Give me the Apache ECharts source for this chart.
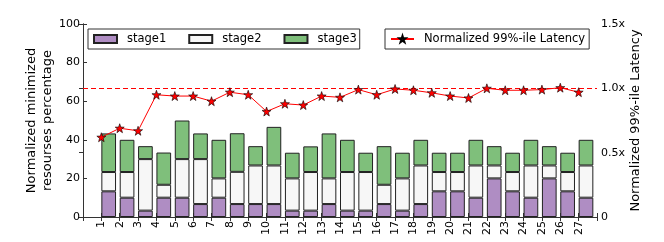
<!DOCTYPE html>
<html><head><meta charset="utf-8">
<script src="https://cdn.jsdelivr.net/npm/echarts@6/dist/echarts.min.js"></script>
<style>html,body{margin:0;padding:0;background:#fff}#c{width:664px;height:242px}</style>
</head><body><div id="c"></div>
<script>
const categories = [1,2,3,4,5,6,7,8,9,10,11,12,13,14,15,16,17,18,19,20,21,22,23,24,25,26,27];
const stage1 = [13.3,10,3.3,10,10,6.7,10,6.7,6.7,6.7,3.3,3.3,6.7,3.3,3.3,6.7,3.3,6.7,13.3,13.3,10,20,13.3,10,20,13.3,10];
const stage2 = [10,13.3,26.7,6.7,20,23.3,10,16.7,20,20,16.7,20,13.3,20,20,10,16.7,20,10,10,16.7,6.7,10,16.7,6.7,10,16.7];
const stage3 = [20,16.7,6.7,16.7,20,13.3,20,20,10,20,13.3,13.3,23.3,16.7,10,20,13.3,13.3,10,10,13.3,10,10,13.3,10,10,13.3];
const latency = [0.62,0.69,0.67,0.95,0.94,0.94,0.90,0.97,0.95,0.82,0.88,0.87,0.94,0.93,0.99,0.95,0.995,0.985,0.965,0.94,0.925,1.0,0.985,0.985,0.99,1.005,0.97];
const leftTicks = [0,20,40,60,80,100];
const rightTicks = ['0','0.5x','1.0x','1.5x'];
const seriesNames = ['stage1','stage2','stage3'];
const latencyName = 'Normalized 99%-ile Latency';
const refLatency = 1.0;

const FONT = 'DejaVu Sans';
const AX = '#333';
const star = 'path://M0,-10 L2.35,-3.24 L9.51,-3.09 L3.8,1.24 L5.88,8.09 L0,4 L-5.88,8.09 L-3.8,1.24 L-9.51,-3.09 L-2.35,-3.24 Z';
const colors = ['#af8dc3','#f7f7f7','#7fbf7b'];
const stages = [stage1, stage2, stage3];

// plot geometry: x range 0..28, bars span [i, i+0.8]
const GL = 83, GR = 67, GT = 24, GB = 25;
const unit = (664 - GL - GR) / 28;
const shift = 0.1 * unit;
// bar categories: slot 0 empty, slot i holds bar i (centre i+0.4 in x units)
const barSlots = ['', ...categories.map(String)];

const chart = echarts.init(document.getElementById('c'), null, {renderer:'canvas'});
const barSeries = stages.map((arr, k) => ({
  name: seriesNames[k], type: 'bar', stack: 'res', xAxisIndex: 2, yAxisIndex: 2,
  barWidth: '80%',
  data: [null, ...arr],
  itemStyle: {color: colors[k], borderColor: '#222', borderWidth: 1},
  emphasis: {disabled: true}, z: 2
}));
chart.setOption({
  animation: false,
  textStyle: {fontFamily: FONT},
  grid: [
    {left: GL, right: GR, top: GT, bottom: GB, containLabel: false},
    {left: GL - shift, right: GR + shift, top: GT, bottom: GB, containLabel: false}
  ],
  legend: [
    {data: seriesNames.map(n => ({name: n, icon: 'rect'})), left: 88, top: 29, orient: 'horizontal',
     padding: [4, 3, 4, 5], itemGap: 22, itemWidth: 23, itemHeight: 8,
     borderColor: AX, borderWidth: 1,
     textStyle: {fontSize: 11.5, fontFamily: FONT, color: '#000', padding: [0,0,0,5]}},
    {data: [latencyName], left: 385, top: 29,
     padding: [4, 4, 4, 5], itemWidth: 23, itemHeight: 8,
     borderColor: AX, borderWidth: 1,
     textStyle: {fontSize: 11.5, fontFamily: FONT, color: '#000', padding: [0,0,0,5]}}
  ],
  xAxis: [
    {type: 'value', gridIndex: 0, min: 0, max: 28, interval: 1, position: 'bottom',
     axisLine: {lineStyle: {color: AX, width: 1}},
     axisTick: {inside: true, length: 4, lineStyle: {color: AX}},
     splitLine: {show: false},
     axisLabel: {rotate: 90, margin: 4, fontSize: 11, color: '#000', fontFamily: FONT,
       formatter: v => (v >= 1 && v <= 27) ? String(categories[v-1]) : ''}},
    {type: 'value', gridIndex: 0, min: 0, max: 28, interval: 1, position: 'top',
     axisLine: {lineStyle: {color: AX, width: 1}},
     axisTick: {inside: true, length: 4, lineStyle: {color: AX}},
     splitLine: {show: false}, axisLabel: {show: false}},
    {type: 'category', gridIndex: 1, data: barSlots, show: false}
  ],
  yAxis: [
    {type: 'value', gridIndex: 0, min: 0, max: 100, interval: 20, position: 'left',
     name: 'Normalized minimized\nresourses percentage', nameLocation: 'middle', nameGap: 27,
     nameMoveOverlap: false,
     nameTextStyle: {fontSize: 13, color: '#000', fontFamily: FONT, lineHeight: 16},
     axisLine: {show: true, lineStyle: {color: AX, width: 1}},
     axisTick: {inside: true, length: 4, lineStyle: {color: AX}},
     splitLine: {show: false},
     axisLabel: {fontSize: 11, color: '#000', margin: 3, fontFamily: FONT,
       formatter: v => String(leftTicks[Math.round(v/20)])}},
    {type: 'value', gridIndex: 0, min: 0, max: 1.5, interval: 0.5, position: 'right',
     name: latencyName, nameLocation: 'middle', nameGap: 32,
     nameMoveOverlap: false,
     nameTextStyle: {fontSize: 13, color: '#000', fontFamily: FONT},
     axisLine: {show: true, lineStyle: {color: AX, width: 1}},
     axisTick: {inside: true, length: 4, lineStyle: {color: AX}},
     splitLine: {show: false},
     axisLabel: {fontSize: 11, color: '#000', margin: 4, fontFamily: FONT,
       formatter: v => rightTicks[Math.round(v/0.5)]}},
    {type: 'value', gridIndex: 1, min: 0, max: 100, show: false}
  ],
  series: barSeries.concat([{
    name: latencyName, type: 'line', xAxisIndex: 0, yAxisIndex: 1,
    data: latency.map((v, i) => [categories[i], v]),
    symbol: star, symbolSize: 9,
    lineStyle: {color: '#ff0000', width: 1},
    itemStyle: {color: '#ff0000', borderColor: '#000', borderWidth: 0.6},
    emphasis: {disabled: true}, z: 5,
    markLine: {silent: true, symbol: 'none', label: {show: false},
      lineStyle: {color: '#ff0000', type: [5, 3], width: 1},
      data: [{yAxis: refLatency}]}
  }])
});
</script></body></html>
